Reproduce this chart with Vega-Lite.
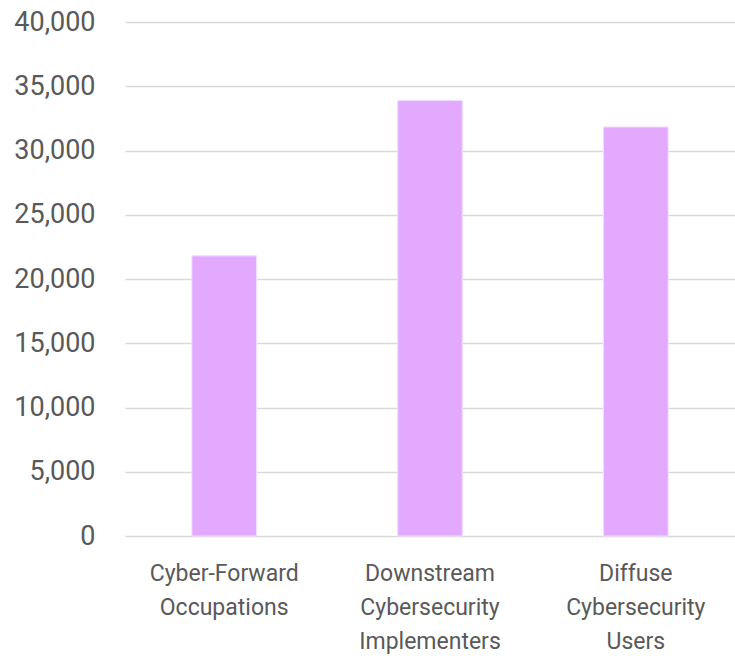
{
  "$schema": "https://vega.github.io/schema/vega-lite/v6.json",
  "width": 735,
  "height": 656,
  "autosize": {"type": "fit", "contains": "padding"},
  "padding": {"left": 13, "top": 8, "right": 0, "bottom": 3},
  "background": "white",
  "config": {"view": {"stroke": null}, "font": "Roboto"},
  "data": {"values": [
    {"category": "Cyber-Forward Occupations", "value": 21800},
    {"category": "Downstream Cybersecurity Implementers", "value": 33900},
    {"category": "Diffuse Cybersecurity Users", "value": 31830}
  ]},
  "mark": {"type": "bar", "color": "#E2A9FF", "stroke": "#F3DDFF", "strokeWidth": 1},
  "encoding": {
    "x": {
      "field": "category", "type": "nominal", "sort": null,
      "scale": {"paddingInner": 0.686, "paddingOuter": 0.325},
      "axis": {
        "title": null, "labelAngle": 0, "ticks": false, "domain": false,
        "labelFontSize": 23, "labelColor": "#595959", "labelPadding": 26,
        "labelLineHeight": 34, "labelBaseline": "top",
        "labelExpr": "datum.value == 'Cyber-Forward Occupations' ? ['Cyber-Forward', 'Occupations'] : datum.value == 'Downstream Cybersecurity Implementers' ? ['Downstream', 'Cybersecurity', 'Implementers'] : ['Diffuse', 'Cybersecurity', 'Users']"
      }
    },
    "y": {
      "field": "value", "type": "quantitative",
      "scale": {"domain": [0, 40000], "nice": false},
      "axis": {
        "title": null, "values": [0, 5000, 10000, 15000, 20000, 25000, 30000, 35000, 40000],
        "format": ",.0f", "ticks": false, "domain": false,
        "gridColor": "#D9D9D9", "gridWidth": 1.5,
        "labelFontSize": 27, "labelColor": "#595959", "labelPadding": 30
      }
    }
  }
}
